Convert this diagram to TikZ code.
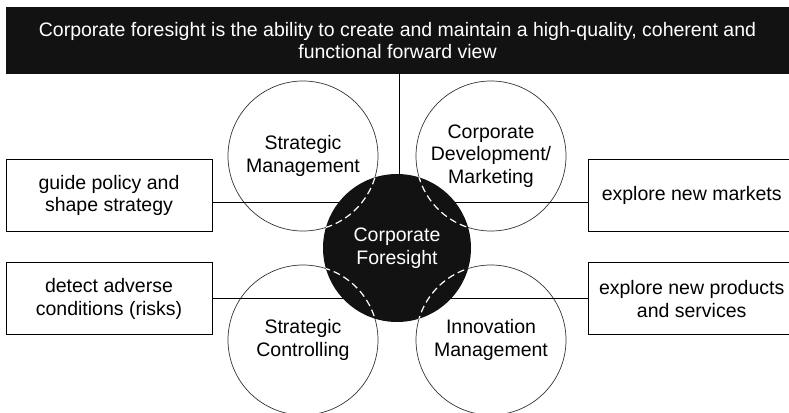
\documentclass[tikz,border=0pt]{standalone}
\usepackage{fontspec}
\setmainfont{Liberation Sans}
\usetikzlibrary{positioning}
\begin{document}
\begin{tikzpicture}[x=1pt, y=-1pt, font=\fontsize{19.5}{22.5}\selectfont]
	\tikzstyle{field} = [draw=black!80, circle, minimum size=150pt, inner sep=0pt, align=center, line width=0.7pt]
	\tikzstyle{task} = [draw, rectangle, minimum width=206pt, minimum height=72pt, align=center, line width=0.8pt, node distance=30.7pt]
	\tikzstyle{link} = [line width=0.8pt]
	\useasboundingbox (0,0) rectangle (789,412);
	\clip (0,0) rectangle (789,412);
	\node[fill=black!93, text=white, minimum width=783pt, minimum height=67pt, align=center] (top) at (397.5,40.5) {Corporate foresight is the ability to create and maintain a high-quality, coherent and\\functional forward view};
	\coordinate (c) at (397,248);
	\node[field] (sm) at (303,156) {Strategic\\Management};
	\node[field] (cd) at (491,156) {Corporate\\Development/\\Marketing};
	\node[field] (sc) at (303,340) {Strategic\\Controlling};
	\node[field] (im) at (491,340) {Innovation\\Management};
	\node[task] (gp) at (109,195.3) {guide policy and\\shape strategy};
	\node[task] (da) [below=of gp] {detect adverse\\conditions (risks)};
	\node[task] (em) at (691.7,195.3) {explore new markets};
	\node[task] (ep) [below=of em] {explore new products\\and services};
	\draw[link] ([xshift=2pt]top.south -| c) -- ([xshift=2pt]c);
	\draw[link] ([yshift=-7pt]gp.east) -- ([yshift=-7pt]gp.east -| c);
	\draw[link] (da.east) -- (da.east -| c);
	\draw[link] ([yshift=-7pt]em.west) -- ([yshift=-7pt]em.west -| c);
	\draw[link] (ep.west) -- (ep.west -| c);
	\node[circle, fill=black!93, minimum size=148pt, inner sep=0pt, text=white, align=center] (cf) at (c) {Corporate\\Foresight};
	\begin{scope}
		\clip (cf.center) circle (74);
		\foreach \f in {sm,cd,sc,im}
			\draw[white, line width=1.2pt, dash pattern=on 7pt off 4pt] (\f.center) circle (75);
	\end{scope}
\end{tikzpicture}
\end{document}
